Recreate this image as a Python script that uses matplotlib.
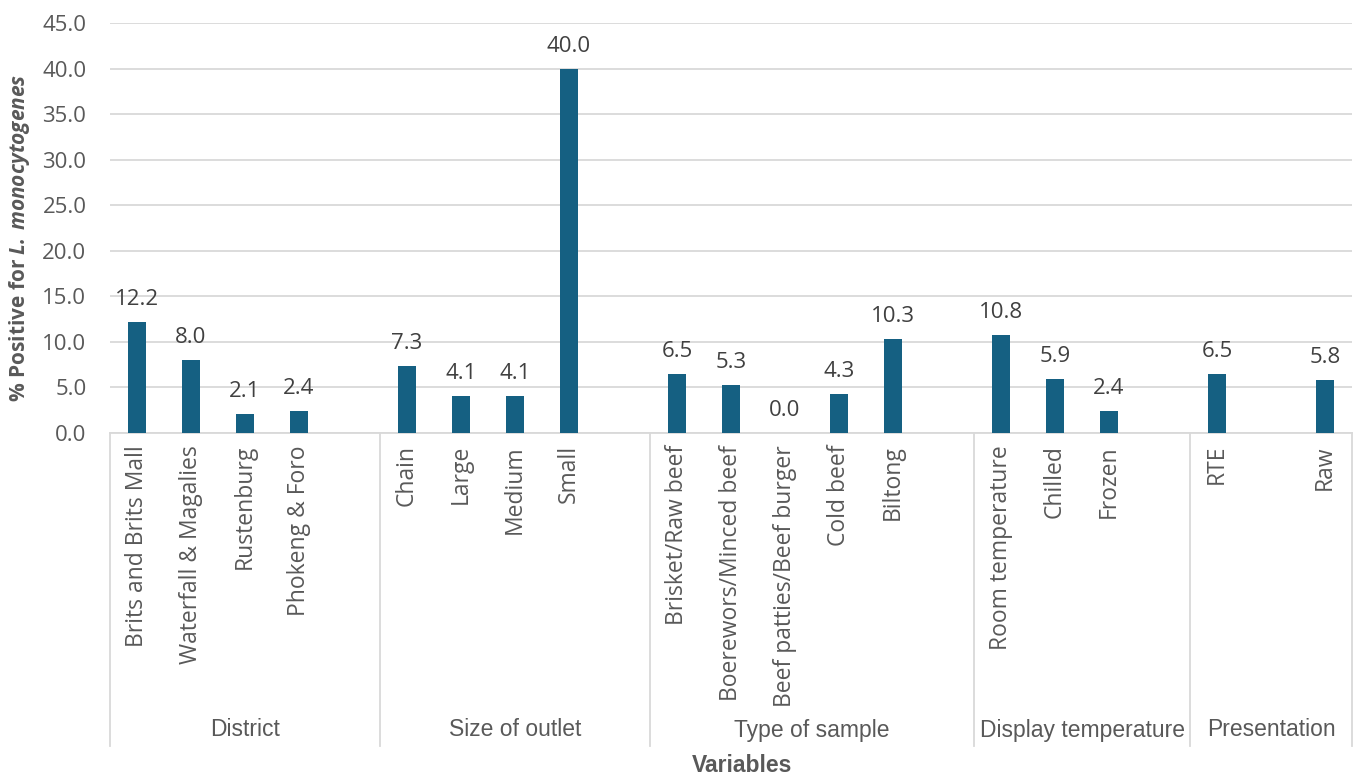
# Prevalence of L. monocytogenes by sampling variable (grouped category bar chart)

import matplotlib.pyplot as plt
from matplotlib import transforms

# --- Data ---
groups = ["District", "Size of outlet", "Type of sample",
          "Display temperature", "Presentation"]
# one entry per slot on the category axis; None marks a blank slot
labels = [
    ["Brits and Brits Mall", "Waterfall & Magalies", "Rustenburg", "Phokeng & Foro", None],
    ["Chain", "Large", "Medium", "Small", None],
    ["Brisket/Raw beef", "Boerewors/Minced beef", "Beef patties/Beef burger",
     "Cold beef", "Biltong", None],
    ["Room temperature", "Chilled", "Frozen", None],
    ["RTE", None, "Raw"],
]
values = [
    [12.2, 8.0, 2.1, 2.4, None],
    [7.3, 4.1, 4.1, 40.0, None],
    [6.5, 5.3, 0.0, 4.3, 10.3, None],
    [10.8, 5.9, 2.4, None],
    [6.5, None, 5.8],
]

bar_color = "#156082"
text_gray = "#595959"
label_gray = "#404040"
grid_gray = "#d9d9d9"
main_font = ["Open Sans", "DejaVu Sans"]
group_font = ["Liberation Sans", "DejaVu Sans"]

plt.rcParams["font.family"] = main_font
plt.rcParams["mathtext.fontset"] = "custom"
plt.rcParams["mathtext.bfit"] = "Open Sans:italic:bold"

fig = plt.figure(figsize=(13.55, 7.75), dpi=100)
ax = fig.add_axes([110 / 1355, 1 - 433 / 775, 1242 / 1355, 410 / 775])

# flatten into slot positions
xs, hs, names = [], [], []
bounds = [-0.5]
pos = 0
for labs, vals in zip(labels, values):
    for lab, v in zip(labs, vals):
        if v is not None:
            xs.append(pos)
            hs.append(v)
            names.append(lab)
        pos += 1
    bounds.append(pos - 0.5)

ax.bar(xs, hs, width=0.32, color=bar_color, zorder=3)
for x, h in zip(xs, hs):
    ax.annotate(f"{h:.1f}", (x, h), xytext=(0, 17), textcoords="offset pixels",
                ha="center", va="baseline", fontsize=16, color=label_gray)

ax.set_xlim(-0.5, pos - 0.5)
ax.set_ylim(0, 45)
ax.set_yticks([i * 5 for i in range(10)])
ax.set_yticklabels([f"{i * 5:.1f}" for i in range(10)], fontsize=16, color=text_gray)
ax.tick_params(axis="y", length=0, pad=17)
ax.set_xticks([])
ax.yaxis.grid(True, color=grid_gray, lw=1.3, zorder=0)
for s in ["top", "right", "left"]:
    ax.spines[s].set_visible(False)
ax.spines["bottom"].set_color(grid_gray)
ax.spines["bottom"].set_linewidth(1.3)

# category labels and group dividers below the axis
trans = transforms.blended_transform_factory(ax.transData, fig.transFigure)
for x, name in zip(xs, names):
    ax.text(x, 1 - 445 / 775, name, transform=trans, rotation=90,
            ha="center", va="top", fontsize=16.5, color=text_gray)
for b in bounds:
    ax.plot([b, b], [1 - 433 / 775, 1 - 746 / 775], transform=trans,
            color=grid_gray, lw=1.3, clip_on=False)
for i, g in enumerate(groups):
    cx = (bounds[i] + bounds[i + 1]) / 2
    ax.text(cx, 1 - 730 / 775, g, transform=trans, ha="center", va="center",
            fontsize=16.5, color=text_gray, family=group_font)

fig.text(742 / 1355, 1 - 765 / 775, "Variables", ha="center", va="center",
         fontsize=16.5, fontweight="bold", color=text_gray, family=group_font)
fig.text(20 / 1355, 1 - 238 / 775,
         r"% Positive for $\mathbfit{L.\,monocytogenes}$",
         rotation=90, ha="center", va="center", fontsize=15,
         fontweight="bold", color=text_gray)

fig.savefig("out.png", dpi=100)
